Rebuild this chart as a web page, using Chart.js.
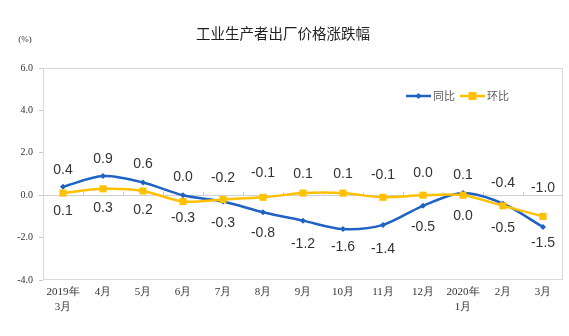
<!DOCTYPE html>
<html>
<head>
<meta charset="utf-8">
<script src="https://cdn.jsdelivr.net/npm/chart.js@4/dist/chart.umd.min.js"></script>
<style>
  body { margin: 0; background: #fff; }
  canvas { display: block; }
</style>
</head>
<body>
<canvas id="chart" width="569" height="336"></canvas>
<script>
// data
const months = [['2019年', '3月'], '4月', '5月', '6月', '7月', '8月', '9月', '10月', '11月', '12月', ['2020年', '1月'], '2月', '3月'];
const yoy = [0.4, 0.9, 0.6, 0.0, -0.3, -0.8, -1.2, -1.6, -1.4, -0.5, 0.1, -0.4, -1.5];
const mom = [0.1, 0.3, 0.2, -0.3, -0.2, -0.1, 0.1, 0.1, -0.1, 0.0, 0.0, -0.5, -1.0];
const seriesNames = ['同比', '环比'];
const yTicks = [-4, -2, 0, 2, 4, 6];

// label placement (px from point, negative = above)
const yoyLabelOff = [-17, -17, -18, -18, 22, 21, 24, 18, 24, 21, -18, -21, 16];
const momLabelOff = [18, 19, 19, 17, -21, -24, -19, -19, -22, -22, 21, 22, -28];

const BLUE = '#1f62c4';
const GOLD = '#ffc000';

const extras = {
    id: 'extras',
    beforeDatasetsDraw(chart) {
        const {ctx, chartArea: a, scales} = chart;
        ctx.save();
        ctx.strokeStyle = '#d9d9d9';
        ctx.lineWidth = 1;
        ctx.strokeRect(a.left + 0.5, a.top + 0.5, a.right - a.left - 1, a.bottom - a.top - 1);
        // little category ticks on the zero line
        const y0 = Math.round(scales.y.getPixelForValue(0)) + 0.5;
        ctx.strokeStyle = '#d0d0d0';
        ctx.beginPath();
        for (let i = 1; i < months.length; i++) {
            const x = Math.round((scales.x.getPixelForValue(i - 1) + scales.x.getPixelForValue(i)) / 2) + 0.5;
            ctx.moveTo(x, y0); ctx.lineTo(x, y0 - 4);
        }
        ctx.stroke();
        ctx.restore();
    },
    afterDraw(chart) {
        const ctx = chart.ctx;
        ctx.save();
        // title
        ctx.fillStyle = '#1f1f1f';
        ctx.font = '14.5px "Noto Sans CJK SC"';
        ctx.textAlign = 'center';
        ctx.textBaseline = 'middle';
        ctx.fillText('工业生产者出厂价格涨跌幅', 283, 33);
        ctx.font = '9px "Liberation Serif"';
        ctx.fillStyle = '#333';
        ctx.fillText('(%)', 25, 40);

        // legend
        const ly = 96;
        ctx.lineWidth = 2.5;
        ctx.strokeStyle = BLUE;
        ctx.beginPath(); ctx.moveTo(406, ly); ctx.lineTo(431, ly); ctx.stroke();
        ctx.fillStyle = BLUE;
        ctx.beginPath(); ctx.moveTo(418.5, ly - 3); ctx.lineTo(421.5, ly); ctx.lineTo(418.5, ly + 3); ctx.lineTo(415.5, ly); ctx.fill();
        ctx.strokeStyle = GOLD;
        ctx.beginPath(); ctx.moveTo(460, ly); ctx.lineTo(485, ly); ctx.stroke();
        ctx.fillStyle = GOLD;
        ctx.fillRect(468.5, ly - 4, 8, 8);
        ctx.fillStyle = '#595959';
        ctx.font = '11px "Noto Sans CJK SC"';
        ctx.textAlign = 'left';
        ctx.fillText(seriesNames[0], 433, ly);
        ctx.fillText(seriesNames[1], 487, ly);

        // point labels
        ctx.font = '14px "Liberation Sans"';
        ctx.fillStyle = '#333';
        ctx.textAlign = 'center';
        const offs = [yoyLabelOff, momLabelOff];
        chart.data.datasets.forEach((ds, di) => {
            chart.getDatasetMeta(di).data.forEach((pt, i) => {
                ctx.fillText(ds.data[i].toFixed(1), pt.x, pt.y + offs[di][i]);
            });
        });
        ctx.restore();
    }
};

new Chart(document.getElementById('chart').getContext('2d'), {
    type: 'line',
    data: {
        labels: months,
        datasets: [{
            label: seriesNames[0],
            data: yoy,
            borderColor: BLUE,
            backgroundColor: BLUE,
            borderWidth: 2.5,
            tension: 0.3,
            pointStyle: 'rectRot',
            pointRadius: 3,
            pointBorderWidth: 0,
            order: 2
        }, {
            label: seriesNames[1],
            data: mom,
            borderColor: GOLD,
            backgroundColor: GOLD,
            borderWidth: 2.5,
            tension: 0.3,
            pointStyle: 'rect',
            pointRadius: 5,
            pointBorderWidth: 0,
            order: 1
        }]
    },
    options: {
        responsive: false,
        animation: false,
        layout: { padding: { top: 68, right: 6, left: 0, bottom: 0 } },
        plugins: { legend: { display: false }, tooltip: { enabled: false } },
        scales: {
            x: {
                offset: true,
                grid: { display: false },
                border: { display: false },
                ticks: { color: '#333', font: { family: 'Liberation Serif', size: 11, lineHeight: 1.35 }, padding: -3, maxRotation: 0, autoSkip: false },
                afterFit(s) { s.height = 56; }
            },
            y: {
                min: yTicks[0],
                max: yTicks[yTicks.length - 1],
                afterBuildTicks(s) { s.ticks = yTicks.map(v => ({value: v})); },
                grid: {
                    color: c => c.tick && c.tick.value === 0 ? '#d0d0d0' : 'rgba(0,0,0,0)',
                    tickColor: '#c8c8c8',
                    tickLength: 4
                },
                border: { display: false },
                ticks: { color: '#333', font: { family: 'Liberation Serif', size: 10 }, padding: 6, callback: v => v.toFixed(1) },
                afterFit(s) { s.width = 43; }
            }
        }
    },
    plugins: [extras]
});
</script>
</body>
</html>
